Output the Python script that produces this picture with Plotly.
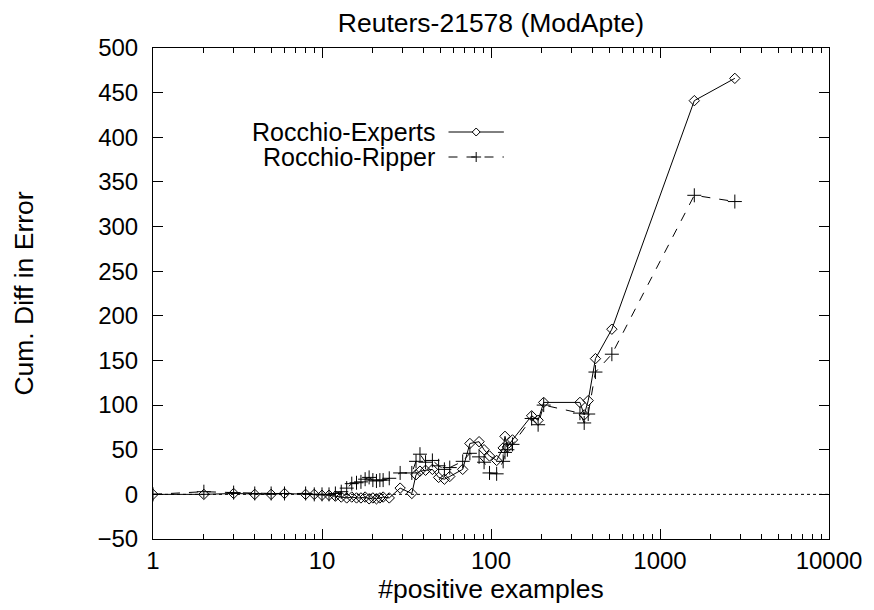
import plotly.graph_objects as go

# ---------------- data ----------------
pos_examples = [1, 2, 3, 4, 5, 6, 8, 9, 10, 11, 12, 13, 14, 15, 16, 17, 18, 19, 20, 21, 22, 23, 25,
                29, 34, 36, 38, 41, 45, 49, 53, 57, 68, 75, 85, 91, 98, 108, 118, 121, 125, 134,
                174, 190, 205, 336, 356, 376, 415, 519, 1596, 2772]
rocchio_experts = [0, 0, 1, 0, 0, 1, 0, 0, -1, -1, -2, -3, -4, -3, -4, -4, -3, -5, -4, -5, -4, -3, -4,
                   7, 1, 22, 26, 27, 28, 19, 17, 20, 28, 57, 59, 50, 43, 38, 52, 65, 53, 61,
                   88, 83, 103, 103, 89, 105, 152, 185, 441, 466]
rocchio_ripper = [0, 3, 2, 1, 1, 1, 1, 0, 0, 0, 1, 3, 7, 12, 13, 14, 17, 19, 16, 15, 16, 16, 18,
                  24, 24, 37, 45, 36, 38, 32, 28, 30, 37, 46, 42, 36, 24, 23, 37, 47, 50, 56,
                  85, 78, 100, 91, 80, 90, 137, 157, 335, 328]
series_names = ["Rocchio-Experts", "Rocchio-Ripper"]
x_ticks = [1, 10, 100, 1000, 10000]
x_tick_labels = ["1", "10", "100", "1000", "10000"]
x_minor_ticks = [m * d for d in (1, 10, 100, 1000) for m in range(2, 10)]
y_ticks = list(range(-50, 501, 50))

FONT = "Liberation Sans, Arial, Helvetica, sans-serif"
FS_TICK = 24
FS_TEXT = 26.5
FS_KEY = 25

# page body has an 8px margin -> figure is drawn at (8, 8)
OFF = 8
FW, FH = 874 - OFF, 610 - OFF
L, R, T, B = 153 - OFF, 37, 48 - OFF, 71
W, H = FW - L - R, FH - T - B

fig = go.Figure()
fig.add_trace(go.Scatter(
    x=pos_examples, y=rocchio_experts, mode="lines+markers", name=series_names[0],
    line=dict(color="black", width=1),
    marker=dict(symbol="diamond-open", size=8, color="black", line=dict(width=1, color="black")),
    showlegend=False))
fig.add_trace(go.Scatter(
    x=pos_examples, y=rocchio_ripper, mode="lines+markers", name=series_names[1],
    line=dict(color="black", width=1, dash="dash"),
    marker=dict(symbol="cross-thin-open", size=10, color="black", line=dict(width=1, color="black")),
    showlegend=False))

# zero axis (dotted)
fig.add_shape(type="line", xref="paper", yref="y", x0=0, x1=1, y0=0, y1=0,
              line=dict(color="black", width=1, dash="dot"), layer="below")

# ---- manual gnuplot-style key (text left, sample right); page pixel coords ----
def px(xp):
    return (xp - OFF - L) / W
def py(yp):
    return (FH - B - (yp - OFF)) / H

key_rows = [132, 157]
text_right = 440
s0, s1 = 452, 508
for i, (name, yr) in enumerate(zip(series_names, key_rows)):
    fig.add_annotation(x=px(text_right), y=py(yr), xref="paper", yref="paper", text=name,
                       showarrow=False, xanchor="right", yanchor="middle",
                       font=dict(family=FONT, size=FS_KEY, color="black"))
    fig.add_shape(type="line", xref="paper", yref="paper", x0=px(s0), x1=px(s1),
                  y0=py(yr), y1=py(yr),
                  line=dict(color="black", width=1, dash="solid" if i == 0 else "dash"))
    cx, cy = (s0 + s1) / 2, yr
    if i == 0:
        path = (f"M {px(cx-4)} {py(cy)} L {px(cx)} {py(cy-4)} L {px(cx+4)} {py(cy)} "
                f"L {px(cx)} {py(cy+4)} Z")
        fig.add_shape(type="path", xref="paper", yref="paper", path=path,
                      fillcolor="white", line=dict(color="black", width=1))
    else:
        fig.add_shape(type="line", xref="paper", yref="paper", x0=px(cx-5), x1=px(cx+5),
                      y0=py(cy), y1=py(cy), line=dict(color="black", width=1))
        fig.add_shape(type="line", xref="paper", yref="paper", x0=px(cx), x1=px(cx),
                      y0=py(cy-5), y1=py(cy+5), line=dict(color="black", width=1))

fig.update_layout(
    width=FW, height=FH,
    margin=dict(l=L, r=R, t=T, b=B, pad=0),
    paper_bgcolor="white", plot_bgcolor="white",
    font=dict(family=FONT, size=FS_TEXT, color="black"),
    title=dict(text="Reuters-21578 (ModApte)", xref="paper", x=0.5, xanchor="center",
               y=1.0, yanchor="top", pad=dict(t=5),
               font=dict(family=FONT, size=FS_TEXT, color="black")),
    showlegend=False,
)
fig.update_xaxes(
    type="log", range=[0, 4], tickvals=x_ticks, ticktext=x_tick_labels,
    ticks="inside", ticklen=10, tickwidth=1.4, tickcolor="black",
    minor=dict(ticks="inside", ticklen=5, tickwidth=1.2, tickcolor="black", showgrid=False,
               tickmode="array", tickvals=x_minor_ticks),
    showline=True, linecolor="black", linewidth=1, mirror="allticks",
    showgrid=False, zeroline=False,
    title=dict(text="#positive examples", standoff=0, font=dict(family=FONT, size=FS_TEXT)),
    tickfont=dict(family=FONT, size=FS_TICK),
)
fig.update_yaxes(
    range=[-50, 500], tickvals=y_ticks,
    ticks="inside", ticklen=10, tickwidth=1.4, tickcolor="black",
    showline=True, linecolor="black", linewidth=1, mirror="allticks",
    showgrid=False, zeroline=False, ticklabelstandoff=9,
    title=dict(text="Cum. Diff in Error", standoff=56, font=dict(family=FONT, size=FS_TEXT)),
    tickfont=dict(family=FONT, size=FS_TICK),
)

fig.write_html("out.html")
